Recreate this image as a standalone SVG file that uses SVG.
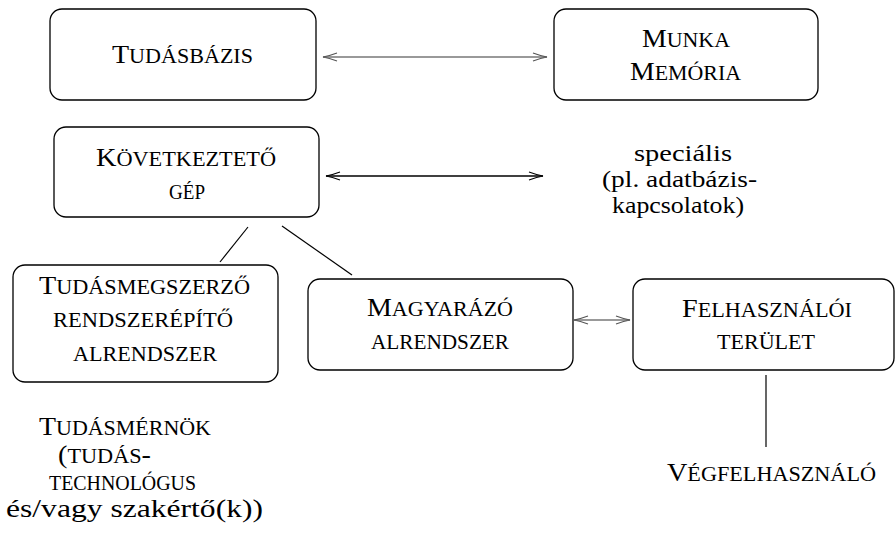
<svg xmlns="http://www.w3.org/2000/svg" width="895" height="538" viewBox="0 0 895 538">
<style>
.box{fill:#fff;stroke:#000;stroke-width:1.3}
.ln{stroke:#000;stroke-width:1.2;fill:none}
.ag{stroke:#999;stroke-width:1.8;fill:none}
.ab{stroke:#000;stroke-width:1.5;fill:none}
</style>
<defs>
<marker id="hg" markerUnits="userSpaceOnUse" markerWidth="20" markerHeight="12" refX="0" refY="0" viewBox="-16 -6 20 12" orient="auto-start-reverse" overflow="visible">
<path d="M-14 -4 Q-6 -1 0 0 Q-6 1 -14 4" fill="none" stroke="#555" stroke-width="1.1"/>
</marker>
<marker id="hb" markerUnits="userSpaceOnUse" markerWidth="20" markerHeight="12" refX="0" refY="0" viewBox="-16 -6 20 12" orient="auto-start-reverse" overflow="visible">
<path d="M-14 -4 Q-6 -1 0 0 Q-6 1 -14 4" fill="none" stroke="#000" stroke-width="1.1"/>
</marker>
</defs>

<g id="connectors">
<line class="ag" x1="323" y1="57" x2="547" y2="57" marker-start="url(#hg)" marker-end="url(#hg)"/>
<line class="ab" x1="326" y1="176" x2="543" y2="176" marker-start="url(#hb)" marker-end="url(#hb)"/>
<line class="ag" x1="574" y1="320" x2="630" y2="320" marker-start="url(#hg)" marker-end="url(#hg)"/>
<line class="ln" x1="248" y1="227" x2="220" y2="262"/>
<line class="ln" x1="282" y1="226" x2="352" y2="275"/>
<line class="ln" x1="766" y1="375" x2="766" y2="447"/>
</g>

<g font-family="Liberation Serif" fill="#000">
<g id="tudasbazis">
<rect class="box" x="50" y="9" width="266" height="91" rx="12"/>
<text x="112" y="63" font-size="26" textLength="141" lengthAdjust="spacingAndGlyphs">T<tspan font-size="20.5">UDÁSBÁZIS</tspan></text>
</g>

<g id="munkamemoria">
<rect class="box" x="554" y="9" width="264" height="91" rx="12"/>
<text x="642" y="47" font-size="26" textLength="88" lengthAdjust="spacingAndGlyphs">M<tspan font-size="20.5">UNKA</tspan></text>
<text x="630" y="80" font-size="26" textLength="111" lengthAdjust="spacingAndGlyphs">M<tspan font-size="20.5">EMÓRIA</tspan></text>
</g>

<g id="kovetkezteto">
<rect class="box" x="54" y="127" width="265" height="90" rx="12"/>
<text x="96" y="166" font-size="26" textLength="180" lengthAdjust="spacingAndGlyphs">K<tspan font-size="20.5">ÖVETKEZTETŐ</tspan></text>
<text x="169" y="199" font-size="20.5" textLength="36" lengthAdjust="spacingAndGlyphs">GÉP</text>
</g>

<g id="specialis" font-size="23">
<text x="634" y="161" textLength="98" lengthAdjust="spacingAndGlyphs">speciális</text>
<text x="602" y="187" textLength="155" lengthAdjust="spacingAndGlyphs">(pl. adatbázis-</text>
<text x="612" y="213" textLength="132" lengthAdjust="spacingAndGlyphs">kapcsolatok)</text>
</g>

<g id="tudasmegszerzo">
<rect class="box" x="13" y="265" width="265" height="117" rx="12"/>
<text x="39" y="294" font-size="26" textLength="211" lengthAdjust="spacingAndGlyphs">T<tspan font-size="20.5">UDÁSMEGSZERZŐ</tspan></text>
<text x="53" y="327" font-size="20.5" textLength="180" lengthAdjust="spacingAndGlyphs">RENDSZERÉPÍTŐ</text>
<text x="73" y="361" font-size="20.5" textLength="144" lengthAdjust="spacingAndGlyphs">ALRENDSZER</text>
</g>

<g id="magyarazo">
<rect class="box" x="308" y="279" width="265" height="91" rx="12"/>
<text x="367" y="316" font-size="26" textLength="146" lengthAdjust="spacingAndGlyphs">M<tspan font-size="20.5">AGYARÁZÓ</tspan></text>
<text x="371" y="349" font-size="20.5" textLength="138" lengthAdjust="spacingAndGlyphs">ALRENDSZER</text>
</g>

<g id="felhasznaloi">
<rect class="box" x="633" y="279" width="261" height="91" rx="12"/>
<text x="682" y="317" font-size="26" textLength="170" lengthAdjust="spacingAndGlyphs">F<tspan font-size="20.5">ELHASZNÁLÓI</tspan></text>
<text x="717" y="349" font-size="20.5" textLength="98" lengthAdjust="spacingAndGlyphs">TERÜLET</text>
</g>

<g id="vegfelhasznalo">
<text x="667" y="481" font-size="26" textLength="209" lengthAdjust="spacingAndGlyphs">V<tspan font-size="20.5">ÉGFELHASZNÁLÓ</tspan></text>
</g>

<g id="tudasmernok">
<text x="39" y="435" font-size="26" textLength="172" lengthAdjust="spacingAndGlyphs">T<tspan font-size="20.5">UDÁSMÉRNÖK</tspan></text>
<text x="58" y="463" font-size="26" textLength="93" lengthAdjust="spacingAndGlyphs">(<tspan font-size="20.5">TUDÁS</tspan>-</text>
<text x="49" y="490" font-size="20.5" textLength="147" lengthAdjust="spacingAndGlyphs">TECHNOLÓGUS</text>
<text x="6" y="517" font-size="26" textLength="257" lengthAdjust="spacingAndGlyphs">és/vagy szakértő(k))</text>
</g>
</g>
</svg>
